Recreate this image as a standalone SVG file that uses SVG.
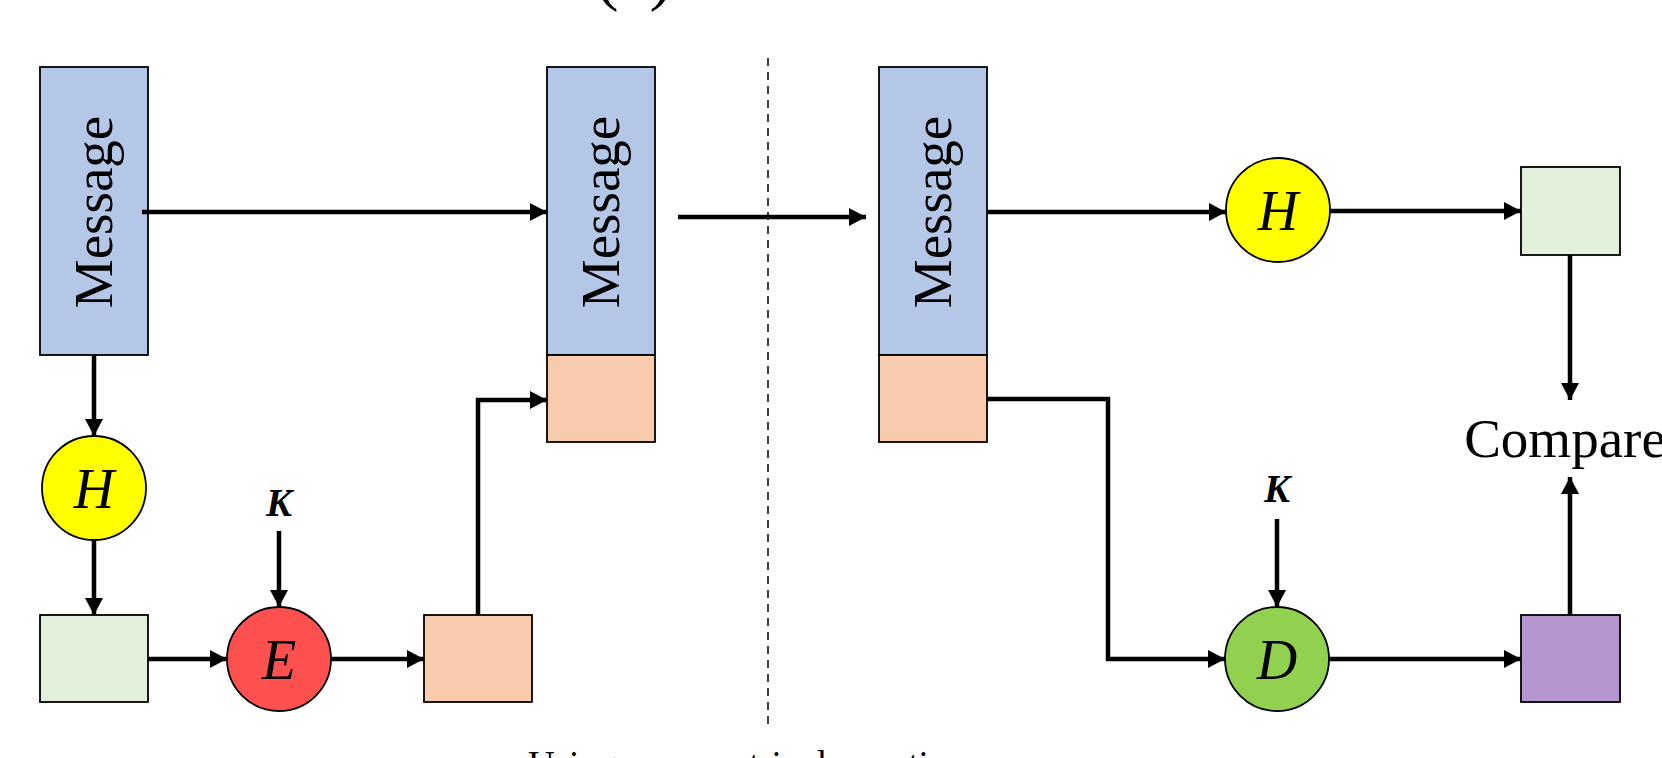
<svg xmlns="http://www.w3.org/2000/svg" width="1662" height="758" viewBox="0 0 1662 758">
<defs>
<marker id="ah" markerUnits="userSpaceOnUse" markerWidth="18" markerHeight="18" refX="17" refY="9" orient="auto">
<path d="M0,0 L17,9 L0,18 Z" fill="#000"/>
</marker>
<style>
.box{stroke:#000;stroke-width:1.8}
.msg{fill:#b4c7e7}
.org{fill:#f8cbad}
.grn{fill:#e2efda}
.circ{stroke:#000;stroke-width:1.8}
.lbl{font-family:"Liberation Serif","Times New Roman",serif;font-size:55px;fill:#000}
.it{font-family:"Liberation Serif","Times New Roman",serif;font-style:italic;font-size:56px;fill:#000;text-anchor:middle}
.k{font-family:"Liberation Serif","Times New Roman",serif;font-style:italic;font-weight:bold;font-size:39px;fill:#000;text-anchor:middle}
.conn{fill:none;stroke:#000;stroke-width:4.5;marker-end:url(#ah)}
</style>
</defs>
<rect width="1662" height="758" fill="#fff"/>
<text x="634" y="-3" class="lbl" style="font-size:70px" text-anchor="middle">(a)</text>
<line x1="768" y1="58" x2="768" y2="728" stroke="#000" stroke-width="1.5" stroke-dasharray="8,6"/>
<g id="msg1">
<rect x="40" y="67" width="108" height="288" class="box msg"/>
<text transform="translate(112,212) rotate(-90)" class="lbl" text-anchor="middle">Message</text>
</g>
<g id="msg2">
<rect x="547" y="67" width="108" height="288" class="box msg"/>
<rect x="547" y="355" width="108" height="87" class="box org"/>
<text transform="translate(619,212) rotate(-90)" class="lbl" text-anchor="middle">Message</text>
</g>
<g id="msg3">
<rect x="879" y="67" width="108" height="288" class="box msg"/>
<rect x="879" y="355" width="108" height="87" class="box org"/>
<text transform="translate(951,212) rotate(-90)" class="lbl" text-anchor="middle">Message</text>
</g>
<g id="h1">
<circle cx="94" cy="488" r="52" class="circ" fill="#ffff00"/>
<text x="94" y="508" class="it">H</text>
</g>
<g id="hash1">
<rect x="40" y="615" width="108" height="87" class="box grn"/>
</g>
<g id="k1">
<text x="279" y="516" class="k">K</text>
</g>
<g id="e1">
<circle cx="279" cy="659" r="52" class="circ" fill="#ff5050"/>
<text x="279" y="679" class="it">E</text>
</g>
<g id="sig1">
<rect x="424" y="615" width="108" height="87" class="box org"/>
</g>
<g id="h2">
<circle cx="1278" cy="210" r="52" class="circ" fill="#ffff00"/>
<text x="1278" y="230" class="it">H</text>
</g>
<g id="hash2">
<rect x="1521" y="167" width="99" height="88" class="box grn"/>
</g>
<g id="compare">
<text x="1565" y="457" class="lbl" text-anchor="middle">Compare</text>
</g>
<g id="k2">
<text x="1277" y="502" class="k">K</text>
</g>
<g id="d1">
<circle cx="1277" cy="659" r="52" class="circ" fill="#92d050"/>
<text x="1277" y="679" class="it">D</text>
</g>
<g id="hash3">
<rect x="1521" y="615" width="99" height="87" class="box" fill="#b596cf"/>
</g>
<g id="connectors">
<path d="M142,212 H547" class="conn"/>
<path d="M678,217 H866" class="conn"/>
<path d="M94,355 V436" class="conn"/>
<path d="M94,540 V615" class="conn"/>
<path d="M148,659 H227" class="conn"/>
<path d="M279,531 V607" class="conn"/>
<path d="M331,659 H424" class="conn"/>
<path d="M478,615 V400 H547" class="conn"/>
<path d="M987,212 H1226" class="conn"/>
<path d="M1330,211 H1521" class="conn"/>
<path d="M1570,255 V400" class="conn"/>
<path d="M987,399 H1108 V659 H1225" class="conn"/>
<path d="M1277,519 V607" class="conn"/>
<path d="M1329,659 H1521" class="conn"/>
<path d="M1570,615 V477" class="conn"/>
</g>
<text x="528" y="777" class="lbl" style="font-size:37px">Using asymmetric decryption</text>
</svg>
